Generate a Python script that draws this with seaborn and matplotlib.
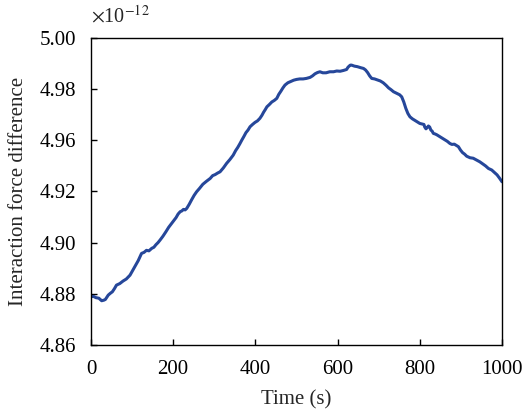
import matplotlib
matplotlib.use("Agg")
import matplotlib.pyplot as plt
import seaborn as sns
import pandas as pd

# Time (s)
time_s = [0, 6, 12, 19, 26, 31, 35, 42, 47, 52, 57, 62, 70, 78, 86, 95, 101, 108, 115, 123,
          129, 135, 141, 148, 153, 158, 163, 168, 175, 182, 189, 196, 201, 207, 212, 217,
          221, 225, 229, 233, 239, 245, 251, 257, 264, 272, 281, 290, 296, 302, 308, 314,
          322, 330, 338, 346, 352, 357, 362, 367, 372, 377, 382, 387, 393, 399, 405, 411,
          416, 420, 424, 428, 434, 440, 446, 452, 457, 462, 467, 472, 479, 486, 493, 500,
          508, 516, 524, 533, 539, 545, 551, 557, 564, 572, 581, 590, 598, 606, 614, 622,
          625, 628, 631, 634, 641, 648, 656, 663, 668, 673, 678, 683, 690, 697, 704, 711,
          718, 724, 730, 736, 741, 746, 751, 756, 761, 766, 771, 776, 782, 788, 794, 800,
          805, 810, 812, 815, 818, 821, 824, 827, 830, 833, 837, 841, 845, 849, 855, 861,
          867, 873, 878, 884, 889, 894, 899, 904, 909, 914, 922, 930, 938, 946, 953, 960,
          967, 975, 981, 988, 994, 1000]
# Interaction force difference (x1e-12)
force = [4.8789, 4.8790, 4.8785, 4.8783, 4.8773, 4.8775, 4.8778, 4.8795, 4.8802, 4.8808,
         4.8820, 4.8834, 4.8840, 4.8850, 4.8858, 4.8873, 4.8890, 4.8910, 4.8930, 4.8958,
         4.8962, 4.8970, 4.8968, 4.8978, 4.8982, 4.8992, 4.9000, 4.9010, 4.9025, 4.9042,
         4.9060, 4.9075, 4.9085, 4.9098, 4.9112, 4.9121, 4.9124, 4.9130, 4.9128, 4.9134,
         4.9150, 4.9168, 4.9185, 4.9199, 4.9212, 4.9228, 4.9240, 4.9251, 4.9262, 4.9266,
         4.9272, 4.9277, 4.9292, 4.9310, 4.9325, 4.9342, 4.9360, 4.9372, 4.9386, 4.9401,
         4.9415, 4.9430, 4.9440, 4.9453, 4.9462, 4.9470, 4.9476, 4.9486, 4.9498, 4.9510,
         4.9520, 4.9531, 4.9540, 4.9550, 4.9556, 4.9564, 4.9580, 4.9592, 4.9605, 4.9616,
         4.9625, 4.9630, 4.9635, 4.9638, 4.9640, 4.9640, 4.9642, 4.9646, 4.9652, 4.9660,
         4.9665, 4.9668, 4.9664, 4.9664, 4.9668, 4.9668, 4.9671, 4.9670, 4.9673, 4.9677,
         4.9685, 4.9690, 4.9694, 4.9694, 4.9690, 4.9688, 4.9684, 4.9681, 4.9675, 4.9665,
         4.9652, 4.9642, 4.9640, 4.9636, 4.9632, 4.9625, 4.9615, 4.9605, 4.9598, 4.9590,
         4.9586, 4.9582, 4.9578, 4.9570, 4.9550, 4.9525, 4.9505, 4.9492, 4.9484, 4.9478,
         4.9472, 4.9466, 4.9464, 4.9462, 4.9452, 4.9445, 4.9450, 4.9456, 4.9452, 4.9440,
         4.9436, 4.9427, 4.9425, 4.9422, 4.9418, 4.9414, 4.9408, 4.9402, 4.9396, 4.9388,
         4.9384, 4.9385, 4.9380, 4.9375, 4.9362, 4.9352, 4.9346, 4.9338, 4.9332, 4.9330,
         4.9323, 4.9316, 4.9308, 4.9300, 4.9290, 4.9284, 4.9275, 4.9265, 4.9252, 4.9238]

y_ticks = [4.86, 4.88, 4.90, 4.92, 4.94, 4.96, 4.98]
y_ticklabels = ["4.86", "4.88", "4.90", "4.92", "4.96", "4.98", "5.00"]
x_ticks = [0, 200, 400, 600, 800, 1000]

sns.set_style("ticks")
plt.rcParams["font.family"] = ["Liberation Serif", "DejaVu Serif"]
plt.rcParams["mathtext.fontset"] = "stix"

df = pd.DataFrame({"Time (s)": time_s, "force": force})

fig = plt.figure(figsize=(5.25, 4.09), dpi=100)
ax = fig.add_axes([0.1733, 0.1565, 0.7829, 0.7506])
sns.lineplot(data=df, x="Time (s)", y="force", ax=ax, color="#26479a", linewidth=2.2)

ax.set_xlim(0, 1000)
ax.set_ylim(4.86, 4.98)
ax.set_xticks(x_ticks)
ax.set_xticklabels([str(t) for t in x_ticks])
ax.set_yticks(y_ticks)
ax.set_yticklabels(y_ticklabels)
ax.tick_params(direction="in", length=4, width=1, labelsize=15, colors="black")
ax.tick_params(axis="x", pad=11)
ax.tick_params(axis="y", pad=11)
for s in ax.spines.values():
    s.set_linewidth(1.0)
    s.set_color("black")
ax.set_xlabel("Time (s)", fontsize=15, labelpad=8)
ax.set_ylabel("Interaction force difference", fontsize=15, labelpad=8)
ax.text(0.0, 1.035, r"$\times$10$^{-12}$", transform=ax.transAxes, fontsize=14.5,
        ha="left", va="bottom")

fig.savefig("out.png", dpi=100)
